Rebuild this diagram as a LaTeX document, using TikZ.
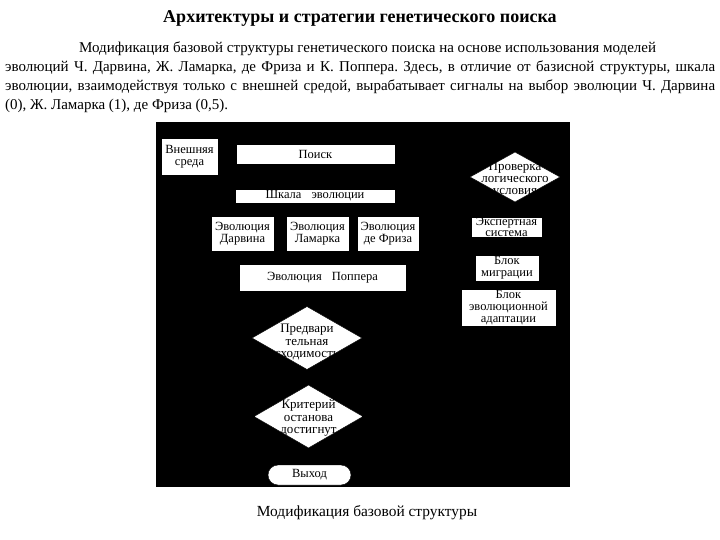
\documentclass[tikz,border=0pt]{standalone}
\usepackage{fontspec}
\setmainfont{Liberation Serif}
\usetikzlibrary{shapes.geometric}
\tikzset{>=latex}
\frenchspacing

\begin{document}
\begin{tikzpicture}[x=1pt,y=-1pt,
  box/.style={draw=black, fill=white, inner sep=0pt, align=center,
    font=\fontsize{12.5}{11.8}\selectfont},
  decision/.style={diamond, draw=black, fill=white, inner sep=0pt},
  dtext/.style={align=center, font=\fontsize{13}{12.2}\selectfont},
  line/.style={anchor=base west, inner sep=0pt, font=\fontsize{15}{18}\selectfont},
  link/.style={->, black}]
  \useasboundingbox (0,0) rectangle (720,540);
  \fill[white] (0,0) rectangle (720,540);

  % heading and text
  \node[anchor=base, inner sep=0pt, font=\bfseries\fontsize{18}{20}\selectfont]
    (title) at (360,23) {Архитектуры и стратегии генетического поиска};
  \node[line] (line1) at (79,52.5) {Модификация базовой структуры генетического поиска на основе использования моделей};
  \node[line] (line2) at (5,72) {\makebox[710pt][s]{эволюций Ч. Дарвина, Ж. Ламарка, де Фриза и К. Поппера. Здесь, в отличие от базисной структуры, шкала}};
  \node[line] (line3) at (5,91) {\makebox[710pt][s]{эволюции, взаимодействуя только с внешней средой, вырабатывает сигналы на выбор эволюции Ч. Дарвина}};
  \node[line] (line4) at (5,109.5) {(0), Ж. Ламарка (1), де Фриза (0,5).};

  % scheme
  \fill[black] (156,122) rectangle (570,487);
  \node[box, minimum width=57pt, minimum height=37pt] (env) at (189.5,156.5) {Внешняя\\среда};
  \node[box, minimum width=159pt, minimum height=20pt] (search) at (315.5,154) {Поиск};
  \node[box, minimum width=160pt, minimum height=14pt] (scale) at (315,196) {Шкала\hspace{10pt}эволюции};
  \node[box, minimum width=63pt, minimum height=35pt] (darwin) at (242.5,233.5) {Эволюция\\Дарвина};
  \node[box, minimum width=63pt, minimum height=35pt] (lamarck) at (317.5,233.5) {Эволюция\\Ламарка};
  \node[box, minimum width=62pt, minimum height=35pt] (devries) at (388,233.5) {Эволюция\\де Фриза};
  \node[box, minimum width=167pt, minimum height=27pt] (popper) at (322.5,277.5) {Эволюция\hspace{10pt}Поппера};
  \node[decision, minimum width=110pt, minimum height=63pt] (conv) at (307,338) {};
  \node[dtext] (convtext) at (307,342) {Предвари\\тельная\\сходимость};
  \node[decision, minimum width=109pt, minimum height=63pt] (stop) at (308.5,416.5) {};
  \node[dtext] (stoptext) at (308.5,418) {Критерий\\останова\\достигнут};
  \node[box, rounded corners=10pt, minimum width=83pt, minimum height=20pt] (exit) at (309.5,475) {Выход};

  \node[decision, minimum width=90pt, minimum height=50pt] (check) at (515,177) {};
  \node[dtext] (checktext) at (515,179.5) {Проверка\\логического\\условия};
  \node[box, minimum width=71pt, minimum height=20pt] (expert) at (506.5,227) {Экспертная\\система};
  \node[box, minimum width=64pt, minimum height=26pt] (migration) at (507,268) {Блок\\миграции};
  \node[box, minimum width=95pt, minimum height=37pt] (adapt) at (508.5,307.5) {Блок\\эволюционной\\адаптации};

  % connectors (black on black)
  \draw[link] (scale.south -| darwin) -- (darwin);
  \draw[link] (scale) -- (lamarck);
  \draw[link] (scale.south -| devries) -- (devries);
  \draw[link] (popper.south -| conv) -- (conv);
  \draw[link] (conv) -- (stop);
  \draw[link] (stop.south -| exit) -- (exit);

  % caption
  \node[anchor=base, inner sep=0pt, font=\fontsize{15.4}{18}\selectfont]
    (caption) at (367,516) {Модификация базовой структуры};
\end{tikzpicture}
\end{document}
